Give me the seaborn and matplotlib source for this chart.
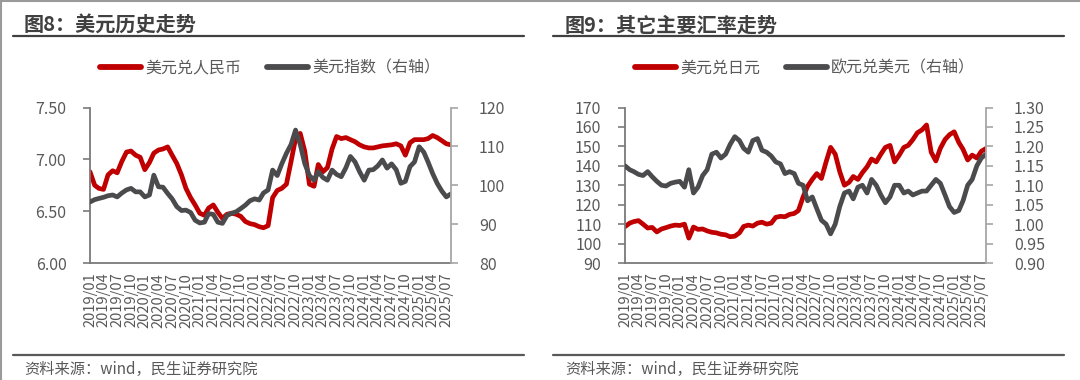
import numpy as np
import pandas as pd
import matplotlib
matplotlib.use("Agg")
import matplotlib.pyplot as plt
import matplotlib.dates as mdates
from matplotlib.lines import Line2D
from matplotlib.ticker import FormatStrFormatter, FixedLocator
import seaborn as sns

# ---------------- data (monthly readings, 2019/01 .. 2025/08) ----------------
dates = pd.date_range("2019-01-01", "2025-08-01", freq="MS")

usdcny = [6.88, 6.75, 6.72, 6.71, 6.85, 6.89, 6.87, 6.98, 7.07, 7.08,
          7.04, 7.02, 6.90, 6.97, 7.06, 7.09, 7.10, 7.12, 7.04, 6.96,
          6.85, 6.72, 6.63, 6.56, 6.48, 6.46, 6.53, 6.56, 6.49, 6.43,
          6.47, 6.48, 6.47, 6.45, 6.40, 6.38, 6.37, 6.35, 6.34, 6.36,
          6.63, 6.70, 6.72, 6.76, 6.98, 7.20, 7.25, 7.08, 6.76, 6.74,
          6.95, 6.88, 6.92, 7.10, 7.22, 7.20, 7.21, 7.19, 7.17, 7.14,
          7.12, 7.11, 7.11, 7.12, 7.13, 7.135, 7.14, 7.15, 7.13, 7.04,
          7.16, 7.19, 7.19, 7.19, 7.20, 7.23, 7.21, 7.18, 7.15, 7.14]

dxy = [95.7, 96.3, 96.6, 96.9, 97.3, 97.5, 97.0, 98.0, 98.8, 99.2,
       98.3, 98.3, 97.0, 97.5, 102.6, 99.6, 99.5, 97.9, 96.5, 94.5,
       93.5, 93.6, 93.0, 91.0, 90.3, 90.5, 92.7, 92.5, 90.5, 90.2,
       92.2, 92.8, 93.2, 94.0, 94.9, 96.0, 96.5, 96.2, 98.0, 98.8,
       103.9, 102.5, 105.5, 108.2, 110.5, 114.2, 110.5, 105.6, 102.5, 101.3,
       103.5, 102.0, 101.3, 103.9, 102.8, 102.2, 104.5, 107.4, 106.0, 103.5,
       101.3, 103.9, 104.0, 105.0, 106.5, 104.4, 105.5, 104.0, 100.5, 101.0,
       104.8, 106.0, 109.9, 108.5, 106.0, 103.0, 100.5, 98.5, 97.0, 97.8]

usdjpy = [108.7, 110.5, 111.3, 111.8, 110.0, 108.0, 108.3, 106.0, 107.5, 108.2,
          109.0, 109.5, 109.3, 110.0, 102.8, 108.5, 107.3, 107.5, 106.5, 105.8,
          105.5, 104.8, 104.5, 103.5, 103.8, 105.5, 108.8, 109.5, 109.0, 110.5,
          111.0, 110.0, 110.5, 113.5, 114.0, 113.8, 115.0, 115.5, 117.0, 124.0,
          129.5, 133.0, 136.0, 133.5, 142.0, 149.5, 146.0, 137.0, 130.0, 131.5,
          134.5, 133.0, 136.5, 139.5, 143.5, 142.0, 146.0, 149.5, 150.5, 142.0,
          145.5, 149.5, 150.5, 153.5, 157.0, 158.5, 161.0, 147.0, 142.5, 149.0,
          153.5, 156.0, 157.5, 152.0, 148.5, 143.0, 145.5, 144.0, 147.5, 148.9]

eurusd = [1.150, 1.140, 1.135, 1.128, 1.125, 1.135, 1.122, 1.110, 1.100, 1.098,
          1.105, 1.108, 1.110, 1.095, 1.140, 1.080, 1.095, 1.125, 1.140, 1.180,
          1.185, 1.170, 1.180, 1.205, 1.225, 1.215, 1.195, 1.185, 1.215, 1.220,
          1.190, 1.185, 1.175, 1.160, 1.155, 1.130, 1.135, 1.130, 1.105, 1.100,
          1.060, 1.070, 1.040, 1.010, 1.000, 0.975, 1.000, 1.045, 1.080, 1.085,
          1.065, 1.095, 1.100, 1.080, 1.115, 1.100, 1.075, 1.055, 1.070, 1.100,
          1.100, 1.080, 1.085, 1.075, 1.080, 1.085, 1.085, 1.100, 1.115, 1.105,
          1.075, 1.045, 1.030, 1.035, 1.060, 1.100, 1.115, 1.150, 1.170, 1.180]

tick_dates = pd.date_range("2019-01-01", "2025-07-01", freq="3MS")
tick_labels = [d.strftime("%Y/%m") for d in tick_dates]

titles = ["图8：美元历史走势", "图9：其它主要汇率走势"]
legend_left = ["美元兑人民币", "美元指数（右轴）"]
legend_right = ["美元兑日元", "欧元兑美元（右轴）"]
source = "资料来源：wind，民生证券研究院"

# ---------------- style ----------------
sns.set_theme(style="white")
plt.rcParams["font.family"] = ["Noto Sans CJK SC", "DejaVu Sans"]
plt.rcParams["axes.unicode_minus"] = False

RED = "#C00000"
GREY = "#4B4B4D"
TXT = "#595959"
DARK = "#404040"

W, H = 1080, 380
fig = plt.figure(figsize=(W / 100, H / 100), dpi=100)
fig.patch.set_facecolor("white")

def fx(px):
    return px / W

def fy(py):
    return 1 - py / H

df = pd.DataFrame({"date": dates, "usdcny": usdcny, "dxy": dxy,
                   "usdjpy": usdjpy, "eurusd": eurusd})

LW = 3.4

def make_panel(x0, left_col, right_col, left_lim, left_ticks, left_fmt,
               right_lim, right_ticks, right_fmt, leg_labels, title, title_x,
               line_x0, line_x1):
    ax = fig.add_axes([fx(x0), fy(263), fx(361), 155.5 / H])
    sns.lineplot(data=df, x="date", y=left_col, ax=ax, color=RED,
                 linewidth=LW, legend=False)
    ax2 = ax.twinx()
    sns.lineplot(data=df, x="date", y=right_col, ax=ax2, color=GREY,
                 linewidth=LW, legend=False)
    for a in (ax, ax2):
        a.set_xlabel("")
        a.set_ylabel("")
        a.set_xlim(pd.Timestamp("2019-01-01"), pd.Timestamp("2025-08-01"))
    ax.set_ylim(*left_lim)
    ax.yaxis.set_major_locator(FixedLocator(left_ticks))
    ax.yaxis.set_major_formatter(FormatStrFormatter(left_fmt))
    ax2.set_ylim(*right_lim)
    ax2.yaxis.set_major_locator(FixedLocator(right_ticks))
    ax2.yaxis.set_major_formatter(FormatStrFormatter(right_fmt))

    ax.set_xticks(tick_dates)
    ax.set_xticklabels(tick_labels, rotation=90, fontsize=10.5, color=TXT)
    for a in (ax, ax2):
        a.spines["top"].set_visible(False)
    ax.spines["right"].set_visible(False)
    ax2.spines["left"].set_visible(False)
    ax2.spines["bottom"].set_visible(False)
    ax.spines["left"].set_color("#7a7a7a")
    ax.spines["bottom"].set_color("#7a7a7a")
    ax2.spines["right"].set_color("#a6a6a6")
    for s in ("left", "bottom"):
        ax.spines[s].set_linewidth(1.3)
    ax2.spines["right"].set_linewidth(1.3)
    ax.tick_params(axis="x", direction="out", length=5, width=1.2,
                   color="#7a7a7a", pad=2)
    ax.tick_params(axis="y", direction="out", length=5, width=1.2,
                   color="#7a7a7a", labelsize=11.5, labelcolor=TXT, pad=12)
    ax2.tick_params(axis="y", direction="out", length=5, width=1.2,
                    color="#a6a6a6", labelsize=11.5, labelcolor=TXT, pad=15)
    ax.grid(False)
    ax2.grid(False)

    handles = [Line2D([0], [0], color=RED, lw=4.2, solid_capstyle="round"),
               Line2D([0], [0], color=GREY, lw=4.2, solid_capstyle="round")]
    fig.legend(handles, leg_labels, loc="center",
               bbox_to_anchor=(fx(x0 + 180), fy(68)), ncol=2, frameon=False,
               fontsize=11.5, labelcolor=TXT, handlelength=2.6,
               handletextpad=0.25, columnspacing=1.6)

    fig.text(fx(title_x), fy(25), title, fontsize=14.5, fontweight="bold",
             color=DARK, va="center", ha="left")
    fig.add_artist(Line2D([fx(line_x0), fx(line_x1)], [fy(36), fy(36)],
                          color=DARK, lw=1.6, transform=fig.transFigure))
    fig.add_artist(Line2D([fx(line_x0), fx(line_x1)], [fy(355), fy(355)],
                          color="#595959", lw=1.6, transform=fig.transFigure))
    fig.text(fx(title_x), fy(369), source, fontsize=11, color=TXT,
             va="center", ha="left")
    return ax, ax2

make_panel(90, "usdcny", "dxy", (6.0, 7.5), [6.0, 6.5, 7.0, 7.5], "%.2f",
           (80, 120), [80, 90, 100, 110, 120], "%d",
           legend_left, titles[0], 24, 13, 524)
make_panel(625, "usdjpy", "eurusd", (90, 170), list(range(90, 171, 10)), "%d",
           (0.90, 1.30), [0.90, 0.95, 1.00, 1.05, 1.10, 1.15, 1.20, 1.25, 1.30],
           "%.2f", legend_right, titles[1], 565, 553, 1064)

# light frame at top and left of the picture
fig.add_artist(Line2D([0, 1], [fy(0.8), fy(0.8)], color="#9a9a9a", lw=1.5,
                      transform=fig.transFigure))
fig.add_artist(Line2D([fx(0.8), fx(0.8)], [0, 1], color="#9a9a9a", lw=1.5,
                      transform=fig.transFigure))

fig.savefig("out.png", dpi=100, facecolor="white")
